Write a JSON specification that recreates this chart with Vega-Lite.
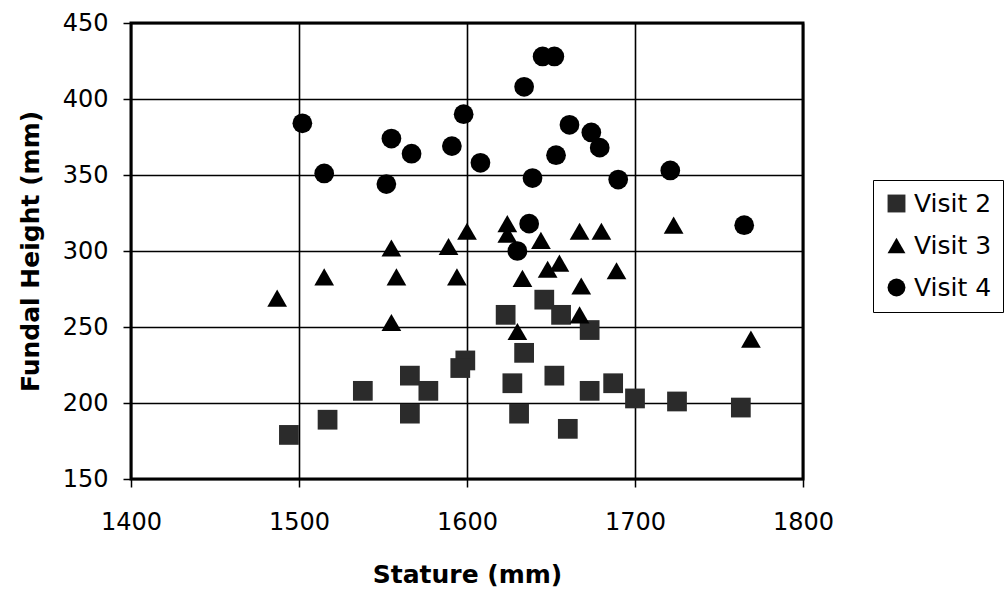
{
  "$schema": "https://vega.github.io/schema/vega-lite/v6.json",
  "autosize": "none",
  "width": 672,
  "height": 456,
  "padding": {"left": 131, "top": 23, "right": 202, "bottom": 117},
  "background": "white",
  "config": {
    "font": "DejaVu Sans",
    "view": {"stroke": "black", "strokeWidth": 3},
    "axis": {
      "domain": false,
      "grid": true,
      "gridColor": "black",
      "gridOpacity": 1,
      "gridWidth": 1.6,
      "tickColor": "black",
      "tickSize": 8,
      "tickWidth": 1.5,
      "labelFlush": false,
      "labelOverlap": false,
      "labelFont": "DejaVu Sans",
      "labelFontSize": 24,
      "labelColor": "black",
      "titleFont": "DejaVu Sans",
      "titleFontSize": 25,
      "titleFontWeight": "bold",
      "titleColor": "black"
    }
  },
  "data": {
    "values": [
      {"visit": "Visit 2", "stature": 1494, "fundal": 179},
      {"visit": "Visit 2", "stature": 1517, "fundal": 189},
      {"visit": "Visit 2", "stature": 1538, "fundal": 208},
      {"visit": "Visit 2", "stature": 1566, "fundal": 218},
      {"visit": "Visit 2", "stature": 1577, "fundal": 208},
      {"visit": "Visit 2", "stature": 1566, "fundal": 193},
      {"visit": "Visit 2", "stature": 1599, "fundal": 228},
      {"visit": "Visit 2", "stature": 1596, "fundal": 223},
      {"visit": "Visit 2", "stature": 1646, "fundal": 268},
      {"visit": "Visit 2", "stature": 1623, "fundal": 258},
      {"visit": "Visit 2", "stature": 1656, "fundal": 258},
      {"visit": "Visit 2", "stature": 1673, "fundal": 248},
      {"visit": "Visit 2", "stature": 1634, "fundal": 233},
      {"visit": "Visit 2", "stature": 1627, "fundal": 213},
      {"visit": "Visit 2", "stature": 1652, "fundal": 218},
      {"visit": "Visit 2", "stature": 1673, "fundal": 208},
      {"visit": "Visit 2", "stature": 1687, "fundal": 213},
      {"visit": "Visit 2", "stature": 1700, "fundal": 203},
      {"visit": "Visit 2", "stature": 1725, "fundal": 201},
      {"visit": "Visit 2", "stature": 1763, "fundal": 197},
      {"visit": "Visit 2", "stature": 1631, "fundal": 193},
      {"visit": "Visit 2", "stature": 1660, "fundal": 183},
      {"visit": "Visit 3", "stature": 1487, "fundal": 269},
      {"visit": "Visit 3", "stature": 1515, "fundal": 283},
      {"visit": "Visit 3", "stature": 1555, "fundal": 302},
      {"visit": "Visit 3", "stature": 1558, "fundal": 283},
      {"visit": "Visit 3", "stature": 1555, "fundal": 253},
      {"visit": "Visit 3", "stature": 1589, "fundal": 303},
      {"visit": "Visit 3", "stature": 1594, "fundal": 283},
      {"visit": "Visit 3", "stature": 1600, "fundal": 313},
      {"visit": "Visit 3", "stature": 1624, "fundal": 318},
      {"visit": "Visit 3", "stature": 1624, "fundal": 311},
      {"visit": "Visit 3", "stature": 1644, "fundal": 307},
      {"visit": "Visit 3", "stature": 1667, "fundal": 313},
      {"visit": "Visit 3", "stature": 1680, "fundal": 313},
      {"visit": "Visit 3", "stature": 1723, "fundal": 317},
      {"visit": "Visit 3", "stature": 1633, "fundal": 282},
      {"visit": "Visit 3", "stature": 1648, "fundal": 288},
      {"visit": "Visit 3", "stature": 1655, "fundal": 292},
      {"visit": "Visit 3", "stature": 1689, "fundal": 287},
      {"visit": "Visit 3", "stature": 1668, "fundal": 277},
      {"visit": "Visit 3", "stature": 1667, "fundal": 258},
      {"visit": "Visit 3", "stature": 1630, "fundal": 247},
      {"visit": "Visit 3", "stature": 1769, "fundal": 242},
      {"visit": "Visit 4", "stature": 1502, "fundal": 384},
      {"visit": "Visit 4", "stature": 1515, "fundal": 351},
      {"visit": "Visit 4", "stature": 1555, "fundal": 374},
      {"visit": "Visit 4", "stature": 1567, "fundal": 364},
      {"visit": "Visit 4", "stature": 1552, "fundal": 344},
      {"visit": "Visit 4", "stature": 1645, "fundal": 428},
      {"visit": "Visit 4", "stature": 1652, "fundal": 428},
      {"visit": "Visit 4", "stature": 1634, "fundal": 408},
      {"visit": "Visit 4", "stature": 1598, "fundal": 390},
      {"visit": "Visit 4", "stature": 1591, "fundal": 369},
      {"visit": "Visit 4", "stature": 1608, "fundal": 358},
      {"visit": "Visit 4", "stature": 1661, "fundal": 383},
      {"visit": "Visit 4", "stature": 1674, "fundal": 378},
      {"visit": "Visit 4", "stature": 1679, "fundal": 368},
      {"visit": "Visit 4", "stature": 1653, "fundal": 363},
      {"visit": "Visit 4", "stature": 1639, "fundal": 348},
      {"visit": "Visit 4", "stature": 1690, "fundal": 347},
      {"visit": "Visit 4", "stature": 1721, "fundal": 353},
      {"visit": "Visit 4", "stature": 1637, "fundal": 318},
      {"visit": "Visit 4", "stature": 1765, "fundal": 317},
      {"visit": "Visit 4", "stature": 1630, "fundal": 300}
    ]
  },
  "mark": {"type": "point", "filled": true, "opacity": 1, "size": 390, "strokeWidth": 0},
  "encoding": {
    "x": {
      "field": "stature",
      "type": "quantitative",
      "scale": {"domain": [1400, 1800], "nice": false, "zero": false},
      "axis": {
        "values": [1400, 1500, 1600, 1700, 1800],
        "format": "d",
        "title": "Stature (mm)",
        "labelPadding": 23,
        "titleBaseline": "alphabetic",
        "titleY": 103,
        "titleX": 336
      }
    },
    "y": {
      "field": "fundal",
      "type": "quantitative",
      "scale": {"domain": [150, 450], "nice": false, "zero": false},
      "axis": {
        "values": [150, 200, 250, 300, 350, 400, 450],
        "format": "d",
        "title": "Fundal Height (mm)",
        "labelPadding": 15,
        "titleAngle": -90,
        "titleAlign": "center",
        "titleBaseline": "alphabetic",
        "titleX": -93,
        "titleY": 228
      }
    },
    "shape": {
      "field": "visit",
      "type": "nominal",
      "scale": {"domain": ["Visit 2", "Visit 3", "Visit 4"], "range": ["square", "triangle-up", "circle"]},
      "legend": {
        "title": null,
        "orient": "none",
        "legendX": 742,
        "legendY": 157,
        "padding": 11,
        "rowPadding": 16,
        "strokeColor": "black",
        "fillColor": "white",
        "symbolSize": 320,
        "symbolStrokeWidth": 0,
        "labelFont": "DejaVu Sans",
        "labelFontSize": 25,
        "labelColor": "black",
        "labelOffset": 5,
        "encode": {"legend": {"update": {"strokeWidth": {"value": 1.5}}}}
      }
    },
    "color": {
      "field": "visit",
      "type": "nominal",
      "scale": {"domain": ["Visit 2", "Visit 3", "Visit 4"], "range": ["#2b2b2b", "#000000", "#000000"]}
    }
  }
}
